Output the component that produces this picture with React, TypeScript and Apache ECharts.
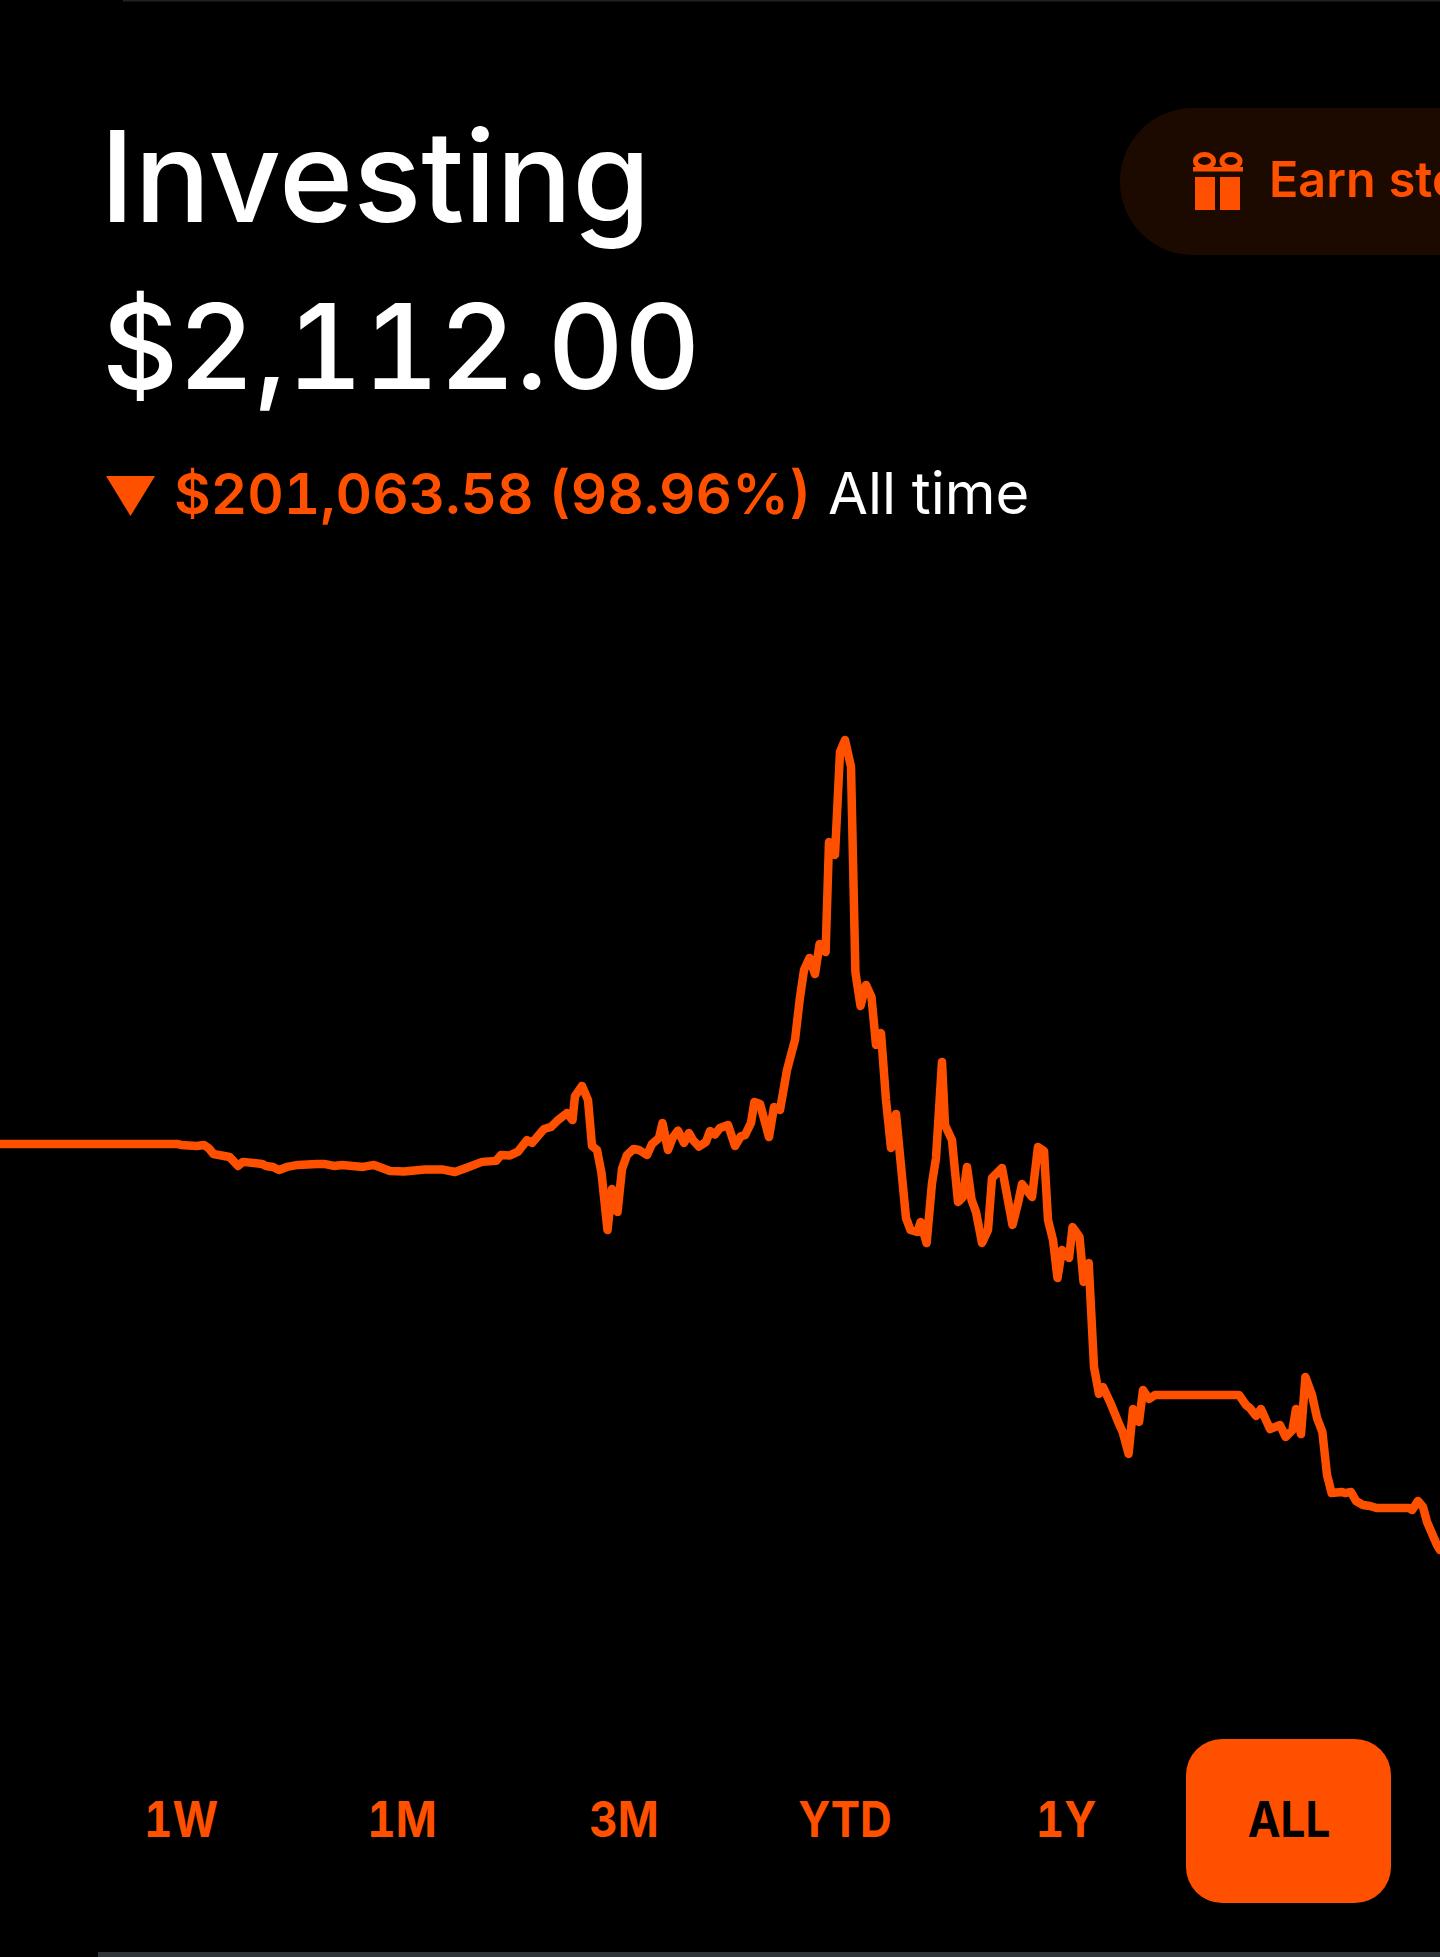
import React, { useEffect, useRef } from "react";
import * as echarts from "echarts";

// Timeline position (arbitrary even scale, left to right) and portfolio value in $ thousands
const timeline = [0,177,181,197,204,209,213.5,229.6,238,243,262,266,273,279,287,298,317,324,334,342,363,374,390,404,425,443,455,466,482,496,501,510,518,527,532,544,551,558,567,572.5,575,582,588,592,597,601.5,607.5,612,617.5,622,627,633.6,639,647,652,659,662.5,668,672.6,678,684,689,693,699,706,710,715,720,728,735,741,745,751,754.4,760,769,774,780,787,795,800,804,809.5,815,819.6,825.6,829,835,840,845,851,855.4,860.5,866,871.5,876,881,886,891,896,906,910.5,917.4,920.6,926.6,932,936,942,945,952,958,963,967,971.6,976,982,988,992,1002,1012.5,1018,1022,1032,1038,1044,1048,1053,1057.5,1062,1069,1072.6,1079.5,1083.6,1088.7,1094,1099,1103,1110,1119.5,1122.7,1128.6,1133,1139,1143,1149,1155,1239,1246,1250,1256,1261,1270,1280,1285.6,1292.5,1296,1301,1305.4,1312,1317,1322.4,1327,1331.6,1342,1345,1351,1356,1363,1370,1376.6,1409,1412,1418,1423,1427,1437,1440];
const valuesK = [203.2,203.2,202.7,202.2,202.7,200.9,198.2,196.7,192.3,194.3,193.3,192.3,191.8,190.3,191.8,192.8,193.3,193.3,192.3,192.8,191.8,192.8,189.8,189.5,190.5,190.5,189.3,191.3,194.3,194.8,197.7,197.5,199.4,205.1,203.7,210.6,211.6,215.0,218.5,215.0,226.9,231.9,224.9,202.2,200.2,188.8,160.6,180.9,169.5,190.8,197.7,200.7,200.2,197.7,203.2,206.1,213.6,200.2,206.1,209.8,203.7,208.6,205.1,201.9,204.2,209.6,207.9,211.1,212.6,202.2,207.1,207.6,213.6,224.0,223.0,206.6,221.5,220.0,239.8,254.7,275.9,289.3,295.3,287.3,302.2,298.2,352.7,346.3,397.3,403.2,389.9,288.3,271.5,281.9,275.9,252.2,258.1,224.9,201.2,218.0,166.5,160.6,159.6,164.5,154.1,183.8,196.2,243.8,212.6,205.1,174.4,176.9,191.8,175.4,169.5,154.1,160.6,186.3,191.3,163.1,173.9,183.3,176.9,201.7,199.7,165.5,155.6,136.8,150.7,146.7,162.0,157.1,134.8,144.2,92.7,79.4,82.8,75.4,64.0,60.5,49.7,71.9,65.5,81.3,76.9,78.9,78.9,73.9,72.4,68.5,71.9,62.0,64.0,58.1,61.5,71.9,59.5,87.8,78.9,67.5,60.5,39.3,30.3,30.8,30.3,30.8,26.4,24.4,23.9,22.9,22.9,21.9,26.4,23.4,16.0,4.6,2.1];
const ranges = ["1W", "1M", "3M", "YTD", "1Y", "ALL"];
const rangeCentres = [181, 402, 624, 845, 1066, 1289];

const ORANGE = "#FF5000";
const FONT = "Inter";

export default function App() {
  const ref = useRef<HTMLDivElement>(null);
  useEffect(() => {
    document.body.style.margin = "0";
    document.body.style.background = "#000";
    const chart = echarts.init(ref.current!, null, { renderer: "svg" });
    const txt = (text: string, x: number, baseline: number, size: number, weight: number, fill: string, align = "left", scaleX = 1) => ({
      type: "text", x, y: baseline - 0.87 * size, z: 10, scaleX,
      style: { text, fill, fontFamily: FONT, fontSize: size, fontWeight: weight, align, verticalAlign: "top" },
    });
    chart.setOption({
      animation: false,
      backgroundColor: "#000000",
      grid: { left: 0, right: 0, top: 706.1, height: 848.16 },
      xAxis: { type: "value", min: 0, max: 1440, show: false },
      yAxis: { type: "value", min: 0, max: 420, show: false },
      series: [{
        type: "line",
        data: timeline.map((t, i) => [t, valuesK[i]]),
        showSymbol: false,
        smooth: false,
        lineStyle: { color: ORANGE, width: 8.5, cap: "round", join: "round" },
      }],
      graphic: [
        { type: "rect", shape: { x: 123, y: 0, width: 1317, height: 1.5 }, style: { fill: "#1f2224" } },
        txt("Investing", 100, 223, 126.5, 450, "#FFFFFF"),
        txt("$2,112.00", 102, 390, 118, 450, "#FFFFFF"),
        { type: "polygon", shape: { points: [[106, 476], [155, 476], [130.5, 516]] }, style: { fill: ORANGE } },
        txt("$201,063.58 (98.96%)", 174, 514, 56.5, 600, ORANGE),
        txt("All time", 828, 514, 58, 400, "#FFFFFF"),
        { type: "rect", shape: { x: 1120, y: 108, width: 420, height: 147, r: 73 }, style: { fill: "#1C0A00" } },
        { type: "rect", shape: { x: 1195, y: 177, width: 20, height: 33 }, style: { fill: ORANGE } },
        { type: "rect", shape: { x: 1220, y: 177, width: 20, height: 33 }, style: { fill: ORANGE } },
        { type: "rect", shape: { x: 1193, y: 167, width: 50, height: 4.5 }, style: { fill: ORANGE } },
        { type: "ellipse", shape: { cx: 1204.5, cy: 161, rx: 9, ry: 6.5 }, style: { fill: "none", stroke: ORANGE, lineWidth: 5 } },
        { type: "ellipse", shape: { cx: 1231, cy: 161, rx: 9, ry: 6.5 }, style: { fill: "none", stroke: ORANGE, lineWidth: 5 } },
        txt("Earn stock", 1269, 197, 50, 600, ORANGE, "left", 0.97),
        { type: "rect", shape: { x: 1186, y: 1739, width: 205, height: 164, r: 36 }, style: { fill: ORANGE } },
        ...ranges.map((r, i) => txt(r, rangeCentres[i], 1837, 50, 700, r === "ALL" ? "#000000" : ORANGE, "center", 0.88)),
        { type: "rect", shape: { x: 98, y: 1952, width: 1342, height: 5 }, style: { fill: "#2F3538" } },
      ],
    });
    return () => chart.dispose();
  }, []);
  return <div ref={ref} style={{ position: "absolute", left: 0, top: 0, width: 1440, height: 1957, fontFeatureSettings: '"tnum"' }} />;
}
